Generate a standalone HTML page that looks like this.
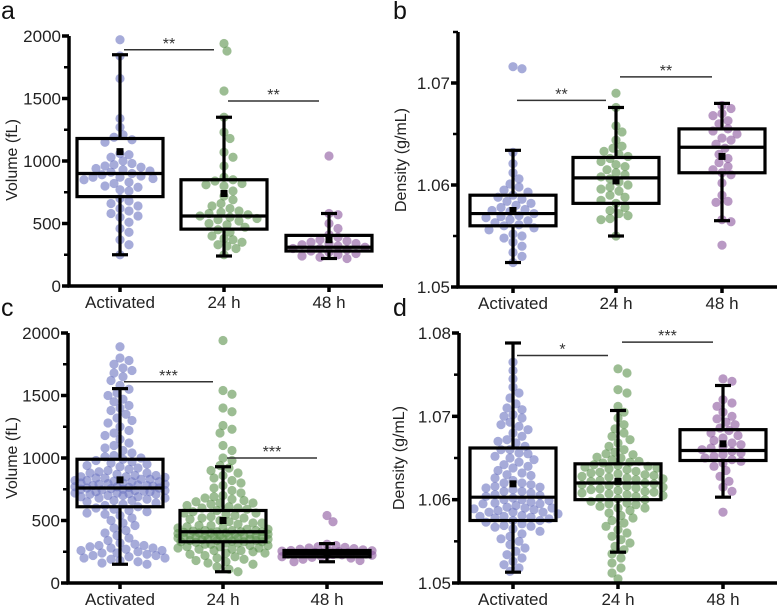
<!DOCTYPE html>
<html><head><meta charset="utf-8"><style>
body{margin:0;background:#fff;}
svg{display:block;font-family:"Liberation Sans",sans-serif;}
</style></head><body>
<svg id="fig" width="777" height="607" viewBox="0 0 777 607" xmlns="http://www.w3.org/2000/svg"></svg>
<script>
// ---- data ----
const categories = ["Activated","24 h","48 h"];
// box stats: [whiskerLow, q1, median, q3, whiskerHigh, mean]
const boxA = [[250,715,900,1180,1850,1075],[240,455,560,850,1350,740],[220,280,310,405,580,370]];
const boxB = [[1.0524,1.0560,1.0572,1.0590,1.0634,1.0575],[1.0550,1.0582,1.0607,1.0627,1.0676,1.0604],[1.0565,1.0612,1.0637,1.0655,1.0680,1.0628]];
const boxC = [[150,610,760,990,1555,825],[90,330,410,580,930,500],[170,210,235,260,315,240]];
const boxD = [[1.0513,1.0575,1.0603,1.0662,1.0788,1.0619],[1.0537,1.0600,1.0620,1.0643,1.0707,1.0622],[1.0603,1.0647,1.0659,1.0684,1.0737,1.0667]];
const ptsA0=[1970,1840,1660,1340,1270,1210,1190,1170,1150,1060,1050,1030,1000,980,970,960,950,940,930,920,910,900,890,880,870,870,860,850,830,820,800,790,770,760,700,680,660,640,620,600,580,560,550,510,460,430,370,330,250];
const ptsA1=[1940,1880,1560,1350,1230,1180,1070,1030,960,870,850,840,820,810,800,760,720,690,660,640,620,600,590,580,570,560,550,540,530,520,500,490,470,450,430,400,380,370,350,330,320,300,250];
const ptsA2=[1040,580,570,500,460,410,390,370,360,350,340,340,330,320,310,300,300,290,280,270,260,250,240,230,220];
const ptsB0=[1.0716,1.0714,1.0632,1.0621,1.0612,1.0606,1.0601,1.0598,1.0595,1.0593,1.0590,1.0588,1.0586,1.0584,1.0582,1.0580,1.0578,1.0576,1.0575,1.0574,1.0572,1.0570,1.0569,1.0568,1.0566,1.0565,1.0563,1.0561,1.0560,1.0558,1.0556,1.0552,1.0550,1.0548,1.0544,1.0540,1.0534,1.0530,1.0524];
const ptsB1=[1.0690,1.0676,1.0658,1.0652,1.0644,1.0638,1.0636,1.0633,1.0630,1.0628,1.0626,1.0623,1.0620,1.0618,1.0615,1.0612,1.0610,1.0608,1.0606,1.0603,1.0600,1.0598,1.0596,1.0594,1.0590,1.0588,1.0585,1.0582,1.0578,1.0575,1.0572,1.0570,1.0567,1.0566,1.0550];
const ptsB2=[1.0678,1.0675,1.0670,1.0668,1.0663,1.0660,1.0655,1.0653,1.0650,1.0646,1.0644,1.0640,1.0636,1.0630,1.0626,1.0622,1.0618,1.0615,1.0612,1.0610,1.0602,1.0590,1.0584,1.0583,1.0566,1.0564,1.0541];
const ptsC0=[1890,1800,1780,1750,1720,1700,1680,1650,1620,1580,1550,1520,1500,1470,1450,1420,1400,1380,1350,1320,1300,1280,1250,1220,1200,1180,1150,1120,1100,1080,1060,1040,1020,1010,1000,990,980,970,960,950,940,930,920,910,900,890,880,870,860,850,845,840,830,820,815,810,800,795,790,785,780,775,770,765,760,755,750,745,740,735,730,720,715,710,700,690,680,670,660,650,640,630,620,610,600,590,580,570,560,550,540,520,500,480,460,440,420,400,380,360,340,320,310,300,290,280,270,260,250,240,230,220,210,200,190,180,170,160,150,880,860,840,820,800,780,760,740,720,700,680,660,850,830,810,790,770,750,730,710,690,300,280,260,240,220,200];
const ptsC1=[1940,1540,1510,1400,1370,1260,1230,1200,1100,1060,1000,980,940,920,900,880,860,840,820,800,780,760,740,720,700,690,680,670,660,650,640,630,620,610,600,590,580,570,560,550,540,530,520,510,500,490,480,470,460,450,440,430,420,415,410,405,400,395,390,385,380,375,370,365,360,355,350,345,340,335,330,325,320,310,300,290,280,270,260,250,240,230,220,210,200,190,180,170,160,150,130,110,90,440,430,420,410,400,390,380,370,360,350,340,330,420,400,380,360,340,320,300,280,260,240,480,460,520,560,600,640,350,370,390,410,330,310,290,270];
const ptsC2=[540,490,310,300,290,285,280,275,270,265,260,258,255,252,250,248,245,242,240,238,235,232,230,228,225,222,220,215,210,205,200,190,180,170];
const ptsD0=[1.0765,1.0755,1.0745,1.0735,1.0728,1.0722,1.0715,1.0708,1.0702,1.0698,1.0693,1.0688,1.0684,1.0680,1.0676,1.0672,1.0668,1.0664,1.0660,1.0656,1.0652,1.0648,1.0645,1.0642,1.0638,1.0635,1.0632,1.0629,1.0626,1.0623,1.0620,1.0618,1.0616,1.0614,1.0612,1.0610,1.0608,1.0606,1.0604,1.0602,1.0600,1.0599,1.0597,1.0595,1.0593,1.0591,1.0589,1.0587,1.0585,1.0583,1.0581,1.0579,1.0577,1.0575,1.0573,1.0571,1.0569,1.0567,1.0565,1.0562,1.0559,1.0556,1.0553,1.0550,1.0546,1.0542,1.0538,1.0534,1.0530,1.0526,1.0522,1.0518,1.0514,1.0600,1.0595,1.0590,1.0585,1.0580,1.0575,1.0605,1.0610,1.0615,1.0620,1.0590,1.0585,1.0580,1.0640,1.0650,1.0660,1.0670,1.0690,1.0700,1.0710,1.0596,1.0588,1.0578,1.0568,1.0630,1.0655];
const ptsD1=[1.0757,1.0752,1.0732,1.0728,1.0712,1.0705,1.0698,1.0690,1.0685,1.0680,1.0676,1.0672,1.0668,1.0664,1.0660,1.0657,1.0654,1.0651,1.0648,1.0646,1.0644,1.0642,1.0640,1.0638,1.0636,1.0634,1.0632,1.0630,1.0628,1.0626,1.0624,1.0622,1.0620,1.0618,1.0616,1.0614,1.0612,1.0610,1.0608,1.0606,1.0604,1.0602,1.0600,1.0598,1.0596,1.0594,1.0592,1.0590,1.0587,1.0584,1.0581,1.0578,1.0575,1.0572,1.0568,1.0564,1.0560,1.0556,1.0552,1.0548,1.0544,1.0540,1.0535,1.0530,1.0524,1.0518,1.0512,1.0505,1.0641,1.0637,1.0633,1.0629,1.0625,1.0621,1.0617,1.0613,1.0609,1.0605,1.0601,1.0639,1.0631,1.0623,1.0615,1.0607,1.0627,1.0619,1.0611,1.0645,1.0650,1.0655,1.0595,1.0590];
const ptsD2=[1.0745,1.0742,1.0720,1.0716,1.0712,1.0705,1.0700,1.0697,1.0693,1.0690,1.0686,1.0683,1.0680,1.0677,1.0674,1.0671,1.0668,1.0666,1.0664,1.0662,1.0660,1.0658,1.0656,1.0654,1.0652,1.0650,1.0648,1.0646,1.0644,1.0640,1.0635,1.0628,1.0622,1.0615,1.0610,1.0585];
const ticksVol=[0,500,1000,1500,2000];
const ticksDenB=[1.05,1.06,1.07];
const ticksDenD=[1.05,1.06,1.07,1.08];
const sigA=[[0,1,"**",1890],[1,2,"**",1480]];
const sigB=[[0,1,"**",1.0683],[1,2,"**",1.0706]];
const sigC=[[0,1,"***",1610],[1,2,"***",1000]];
const sigD=[[0,1,"*",1.0773],[1,2,"***",1.0789]];

// ---- drawing ----
const NS="http://www.w3.org/2000/svg";
const svg=document.getElementById('fig');
const colors=["#6f78c2","#5f9450","#8e5aa0"];
function mk(tag,attrs,parent){const e=document.createElementNS(NS,tag);for(const k in attrs)e.setAttribute(k,attrs[k]);(parent||svg).appendChild(e);return e;}

function panel(cfg){
  const g=mk('g',{});
  
  
  const y=v=>cfg.y0+(v-cfg.d0)/(cfg.d1-cfg.d0)*(cfg.y1-cfg.y0);
  const x=i=>cfg.cx[i];
  cfg.pts.forEach((arr,ci)=>{
    const pg=mk('g',{},g);
    
    
    const placed=[];
    const sorted=arr.slice().sort((a,b)=>b-a);
    sorted.forEach(v=>{
      const py=y(v);let px=null,best=-1,bestX=x(ci);
      for(let k=0;k<80;k++){
        const off=(k%2?1:-1)*Math.ceil(k/2)*3;
        if(Math.abs(off)>cfg.maxw)break;
        const cx=x(ci)+off;
        let md=1e9;
        for(const p of placed){const d=(p[0]-cx)**2+(p[1]-py)**2;if(d<md)md=d;}
        if(md>=64){px=cx;break;}
        if(md>best+0.5){best=md;bestX=cx;}
      }
      if(px===null)px=bestX;
      placed.push([px,py]);
      const c=mk('circle',{cx:px,cy:py,r:4.6,fill:colors[ci],'fill-opacity':0.62},pg);
      
      
    });
  });
  cfg.box.forEach((b,ci)=>{
    const bg=mk('g',{stroke:'#000','stroke-width':3.2,fill:'none'},g);
    
    
    const cx=x(ci),hw=cfg.hw;
    mk('line',{x1:cx,x2:cx,y1:y(b[0]),y2:y(b[1])},bg);
    mk('line',{x1:cx,x2:cx,y1:y(b[3]),y2:y(b[4])},bg);
    mk('line',{x1:cx-8,x2:cx+8,y1:y(b[0]),y2:y(b[0])},bg);
    mk('line',{x1:cx-8,x2:cx+8,y1:y(b[4]),y2:y(b[4])},bg);
    mk('rect',{x:cx-hw,y:y(b[3]),width:2*hw,height:y(b[1])-y(b[3])},bg);
    mk('line',{x1:cx-hw,x2:cx+hw,y1:y(b[2]),y2:y(b[2])},bg);
    const m=mk('rect',{x:cx-3.5,y:y(b[5])-3.5,width:7,height:7,fill:'#000',stroke:'none'},g);
    
    
  });
  const ax=mk('g',{stroke:'#000','stroke-width':3.5},g);
  
  
  mk('line',{x1:cfg.ax,x2:cfg.ax,y1:y(cfg.dTop),y2:cfg.y0+1.5},ax);
  mk('line',{x1:cfg.ax-1.5,x2:cfg.xr,y1:cfg.y0,y2:cfg.y0},ax);
  for(let v=cfg.d0;v<=cfg.dTop+1e-9;v+=cfg.minor){mk('line',{x1:cfg.ax-5,x2:cfg.ax,y1:y(v),y2:y(v),'stroke-width':2.5},ax);}
  cfg.ticks.forEach(v=>{
    mk('line',{x1:cfg.ax-7,x2:cfg.ax,y1:y(v),y2:y(v)},ax);
    const t=mk('text',{x:cfg.ax-8,y:y(v)+6,'text-anchor':'end','font-size':17,fill:'#222',stroke:'none'},g);
    t.textContent=cfg.fmt(v);
    
    
  });
  categories.forEach((c,ci)=>{
    mk('line',{x1:x(ci),x2:x(ci),y1:cfg.y0,y2:cfg.y0+6},ax);
    const t=mk('text',{x:x(ci),y:cfg.y0+22,'text-anchor':'middle','font-size':17,fill:'#222'},g);
    t.textContent=c;
    
    
  });
  const yt=mk('text',{transform:`translate(${cfg.tx},${cfg.ty}) rotate(-90)`,'text-anchor':'middle','font-size':16,fill:'#222'},g);
  yt.textContent=cfg.title;
  
  
  const pl=mk('text',{x:cfg.lx,y:cfg.ly,'font-size':25,fill:'#111'},g);
  pl.textContent=cfg.id;
  
  
  cfg.sig.forEach(s=>{
    const x1=x(s[0])+4,x2=x(s[1])-10,yy=y(s[3]);
    const l=mk('line',{x1:x1,x2:x2,y1:yy,y2:yy,stroke:'#333','stroke-width':1.5},g);
    
    
    const t=mk('text',{x:(x1+x2)/2,y:yy-1,'text-anchor':'middle','font-size':16,fill:'#333'},g);
    t.textContent=s[2];
    
    
  });
}
const fV=v=>String(v), fD=v=>v.toFixed(2);
panel({id:'a',ax:69,xr:383,y0:286,y1:36,d0:0,d1:2000,dTop:2000,minor:250,cx:[120,224,329],hw:43,maxw:44,
  box:boxA,pts:[ptsA0,ptsA1,ptsA2],ticks:ticksVol,fmt:fV,title:'Volume (fL)',tx:17,ty:160,lx:1,ly:19,sig:sigA});
panel({id:'b',ax:458,xr:777,y0:287,y1:83,d0:1.05,d1:1.07,dTop:1.075,minor:0.005,cx:[513,616,722],hw:43,maxw:44,
  box:boxB,pts:[ptsB0,ptsB1,ptsB2],ticks:ticksDenB,fmt:fD,title:'Density (g/mL)',tx:406,ty:160,lx:393,ly:19,sig:sigB});
panel({id:'c',ax:68,xr:383,y0:583,y1:333,d0:0,d1:2000,dTop:2000,minor:250,cx:[120,223,327],hw:43,maxw:46,
  box:boxC,pts:[ptsC0,ptsC1,ptsC2],ticks:ticksVol,fmt:fV,title:'Volume (fL)',tx:17,ty:458,lx:1,ly:316,sig:sigC});
panel({id:'d',ax:459,xr:777,y0:583,y1:333,d0:1.05,d1:1.08,dTop:1.08,minor:0.005,cx:[513,618,723],hw:43,maxw:46,
  box:boxD,pts:[ptsD0,ptsD1,ptsD2],ticks:ticksDenD,fmt:fD,title:'Density (g/mL)',tx:404,ty:458,lx:393,ly:316,sig:sigD});
</script>
</body></html>
